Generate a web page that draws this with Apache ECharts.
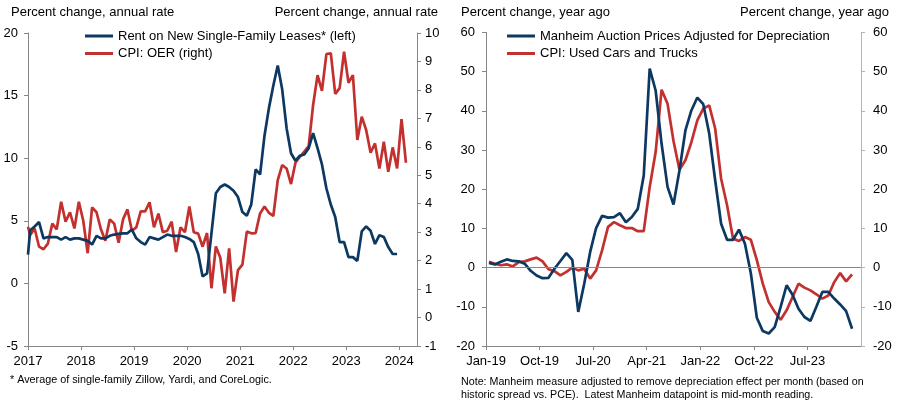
<!DOCTYPE html>
<html>
<head>
<meta charset="utf-8">
<script src="https://cdn.jsdelivr.net/npm/echarts@6/dist/echarts.min.js"></script>
<style>
  html, body { margin: 0; padding: 0; background: #fff; }
  #chart { width: 903px; height: 407px; }
</style>
</head>
<body>
<div id="chart"></div>
<script>
// left panel: monthly; first value is where the line meets the axis, then Jan-2017 onward
let yearLabels = ['2017', '2018', '2019', '2020', '2021', '2022', '2023', '2024']
let rentLeases = [2.3, 4.25, 4.55, 4.9, 3.6, 3.7, 3.7, 3.7, 3.5, 3.7, 3.5, 3.6, 3.6,
	3.5, 3.4, 3.1, 3.8, 3.6, 3.6, 3.8, 3.9, 3.95, 4.0, 4.0, 4.3,
	3.6, 3.3, 3.1, 3.7, 3.6, 3.5, 3.7, 3.9, 3.8, 3.8, 3.8, 3.7,
	3.55, 3.3, 2.35, 0.55, 0.8, 4.0, 7.2, 7.7, 7.9, 7.7, 7.4, 6.9,
	5.7, 5.4, 6.3, 9.1, 8.7, 11.8, 14.0, 15.8, 17.4, 15.5, 12.4, 10.4,
	9.8, 10.2, 10.3, 10.8, 12.0, 10.8, 9.5, 7.6, 6.3, 5.3, 3.3, 3.3,
	2.1, 2.1, 1.8, 4.15, 4.55, 4.2, 3.15, 3.85, 3.7, 2.9, 2.35, 2.35]
let cpiOER = [3.19, 2.9, 3.13, 2.49, 2.4, 2.6, 3.3, 3.1, 4.07, 3.37, 3.7, 3.13, 4.07,
	3.4, 2.26, 3.87, 3.7, 3.1, 2.7, 3.45, 3.3, 2.63, 3.45, 3.8, 3.05,
	3.17, 3.73, 3.73, 4.05, 3.17, 3.65, 3.0, 3.05, 3.37, 2.3, 3.17, 3.0,
	3.9, 3.0, 2.95, 2.49, 2.97, 1.03, 2.5, 2.1, 0.85, 2.43, 0.56, 1.67,
	1.86, 3.02, 2.96, 2.97, 3.66, 3.9, 3.68, 3.57, 4.83, 5.36, 5.24, 4.69,
	5.44, 5.65, 5.83, 6.03, 7.47, 8.52, 7.97, 9.26, 9.29, 7.86, 8.06, 9.34,
	8.25, 8.52, 6.24, 7.06, 6.59, 5.79, 6.12, 5.24, 6.18, 5.12, 5.98, 5.24,
	6.97, 5.44]

// right panel: monthly from Jan-2019
let monthLabels = ['Jan-19', 'Oct-19', 'Jul-20', 'Apr-21', 'Jan-22', 'Oct-22', 'Jul-23']
let manheim = [1.2, 0.8, 1.5, 2.1, 1.7, 1.6, 1.0, -0.8, -2.0, -2.7, -2.6, -0.3,
	1.7, 3.7, 2.0, -11.3, -4.1, 4.0, 10.1, 13.2, 12.75, 12.9, 13.9, 11.6,
	12.9, 15.0, 23.5, 50.8, 45.2, 31.6, 20.6, 16.1, 24.8, 35.0, 40.1, 43.4,
	41.7, 34.2, 22.3, 11.2, 7.1, 7.1, 9.7, 6.1, -1.5, -12.8, -16.2, -16.8,
	-15.2, -10.0, -4.5, -6.9, -10.5, -12.6, -13.6, -10.0, -6.2, -6.2, -7.9, -9.4,
	-11.1, -15.6]
let usedCars = [1.5, 1.0, 0.6, 0.85, 0.3, 1.4, 1.6, 2.1, 2.55, 1.6, -0.4, -0.9,
	-2.0, -1.1, 0, -0.7, -0.3, -2.8, -0.7, 4.4, 10.4, 11.6, 10.8, 10.1,
	10.1, 9.3, 9.3, 20.6, 29.5, 45.4, 41.8, 32.3, 25.0, 27.4, 32.0, 37.6,
	40.6, 41.4, 35.5, 22.7, 15.9, 7.4, 6.8, 7.8, 7.1, 1.9, -4.1, -8.8,
	-11.3, -13.3, -10.9, -7.5, -4.1, -5.1, -5.8, -6.8, -7.9, -7.1, -3.7, -1.4,
	-3.5, -1.7]

let blue = '#0c3862'
let red = '#c2312f'
let grey = '#868686'
let font = "'Liberation Sans', Arial, sans-serif"

// points sit mid-month (first left value sits on the axis)
let leftPts = arr => arr.map((v, i) => [i === 0 ? 0 : i - 0.5, v])
let rightPts = arr => arr.map((v, i) => [i + 0.5, v])

let chart = echarts.init(document.getElementById('chart'))

let lbl = { color: '#000', fontSize: 13, fontFamily: font }
function yAxis(gridIndex, position, min, max, interval, margin, lineColor) {
	return {
		type: 'value', gridIndex: gridIndex, position: position,
		min: min, max: max, interval: interval,
		axisLine: { show: true, lineStyle: { color: lineColor || grey, width: 1 } },
		axisTick: { show: true, inside: false, length: 4, lineStyle: { color: lineColor || grey } },
		axisLabel: Object.assign({ margin: margin }, lbl),
		splitLine: { show: false }
	}
}

let option = {
	animation: false,
	backgroundColor: '#fff',
	grid: [
		{ left: 28, top: 33, width: 389, height: 313 },
		{ left: 486, top: 32.5, width: 375, height: 313.5 }
	],
	xAxis: [{
		type: 'value', gridIndex: 0, min: 0, max: 88, interval: 12,
		axisLine: { onZero: false, lineStyle: { color: grey } },
		axisTick: { show: true, length: 4, lineStyle: { color: grey } },
		axisLabel: Object.assign({ margin: 9, showMaxLabel: false,
			formatter: v => yearLabels[v / 12] || '' }, lbl),
		splitLine: { show: false }
	}, {
		type: 'value', gridIndex: 1, min: 0, max: 63, interval: 9,
		axisLine: { onZero: false, lineStyle: { color: grey } },
		axisTick: { show: true, length: 4, lineStyle: { color: grey } },
		axisLabel: Object.assign({ margin: 9, showMaxLabel: false,
			formatter: v => monthLabels[v / 9] || '' }, lbl),
		splitLine: { show: false }
	}],
	yAxis: [
		yAxis(0, 'left', -5, 20, 5, 10),
		yAxis(0, 'right', -1, 10, 1, 8),
		yAxis(1, 'left', -20, 60, 10, 11),
		yAxis(1, 'right', -20, 60, 10, 12, '#b4b4b4')
	],
	legend: [{
		orient: 'vertical', left: 85, top: 28, padding: 0, itemGap: 1.5,
		icon: 'rect', itemWidth: 28, itemHeight: 3,
		textStyle: { color: '#000', fontSize: 13, fontFamily: font, lineHeight: 16 },
		data: ['Rent on New Single-Family Leases* (left)', 'CPI: OER (right)']
	}, {
		orient: 'vertical', left: 507, top: 28, padding: 0, itemGap: 1.5,
		icon: 'rect', itemWidth: 28, itemHeight: 3,
		textStyle: { color: '#000', fontSize: 13, fontFamily: font, lineHeight: 16 },
		data: ['Manheim Auction Prices Adjusted for Depreciation', 'CPI: Used Cars and Trucks']
	}],
	series: [{
		name: 'CPI: OER (right)', type: 'line', xAxisIndex: 0, yAxisIndex: 1,
		data: leftPts(cpiOER), showSymbol: false, symbol: 'none',
		lineStyle: { color: red, width: 2.7 }, itemStyle: { color: red }, z: 2
	}, {
		name: 'Rent on New Single-Family Leases* (left)', type: 'line', xAxisIndex: 0, yAxisIndex: 0,
		data: leftPts(rentLeases), showSymbol: false, symbol: 'none',
		lineStyle: { color: blue, width: 2.7 }, itemStyle: { color: blue }, z: 3
	}, {
		name: 'CPI: Used Cars and Trucks', type: 'line', xAxisIndex: 1, yAxisIndex: 2,
		data: rightPts(usedCars), showSymbol: false, symbol: 'none',
		lineStyle: { color: red, width: 2.7 }, itemStyle: { color: red }, z: 2,
		markLine: {
			silent: true, symbol: 'none', label: { show: false },
			lineStyle: { color: grey, width: 1, type: 'solid' },
			data: [{ yAxis: 0 }]
		}
	}, {
		name: 'Manheim Auction Prices Adjusted for Depreciation', type: 'line', xAxisIndex: 1, yAxisIndex: 2,
		data: rightPts(manheim), showSymbol: false, symbol: 'none',
		lineStyle: { color: blue, width: 2.7 }, itemStyle: { color: blue }, z: 3
	}],
	graphic: [
		{ type: 'text', left: 11, top: 6, style: { text: 'Percent change, annual rate', fill: '#000', font: '13px ' + font } },
		{ type: 'text', right: 465, top: 6, style: { text: 'Percent change, annual rate', fill: '#000', font: '13px ' + font } },
		{ type: 'text', left: 461, top: 6, style: { text: 'Percent change, year ago', fill: '#000', font: '13px ' + font } },
		{ type: 'text', right: 14, top: 6, style: { text: 'Percent change, year ago', fill: '#000', font: '13px ' + font } },
		{ type: 'text', left: 10, top: 375, style: { text: '* Average of single-family Zillow, Yardi, and CoreLogic.', fill: '#000', font: '10.8px ' + font } },
		{ type: 'text', left: 461, top: 375, style: {
			text: 'Note: Manheim measure adjusted to remove depreciation effect per month (based on\nhistoric spread vs. PCE).  Latest Manheim datapoint is mid-month reading.',
			fill: '#000', font: '10.7px ' + font, lineHeight: 13.5 } }
	]
}

chart.setOption(option)
</script>
</body>
</html>
